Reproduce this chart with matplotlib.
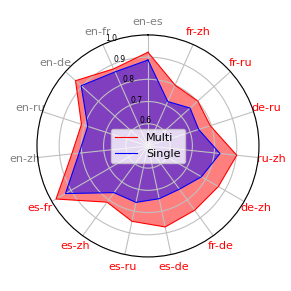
import numpy as np
import matplotlib
matplotlib.use("Agg")
import matplotlib.pyplot as plt

# language pairs, counter-clockwise from the top
pairs = ["en-es", "en-fr", "en-de", "en-ru", "en-zh", "es-fr", "es-zh", "es-ru",
         "es-de", "fr-de", "de-zh", "ru-zh", "de-ru", "fr-ru", "fr-zh"]
multi = [0.922, 0.880, 0.939, 0.815, 0.845, 0.978, 0.813, 0.847,
         0.873, 0.858, 0.866, 0.902, 0.795, 0.802, 0.800]
single = [0.887, 0.865, 0.905, 0.785, 0.812, 0.929, 0.760, 0.760,
          0.743, 0.741, 0.778, 0.826, 0.740, 0.755, 0.719]
r_ticks = [0.6, 0.7, 0.8, 0.9, 1.0]

angles = np.linspace(0, 2 * np.pi, len(pairs), endpoint=False)
ang = np.append(angles, angles[0])
m = np.append(multi, multi[0])
s = np.append(single, single[0])

fig = plt.figure(figsize=(2.91, 2.91), dpi=100)
ax = fig.add_axes([0.127, 0.117, 0.763, 0.763], projection="polar")
ax.set_theta_offset(np.pi / 2)

ax.plot(ang, m, color="red", lw=0.8, label="Multi")
ax.fill(ang, m, color="red", alpha=0.5, lw=0)
ax.plot(ang, s, color="blue", lw=0.8, label="Single")
ax.fill(ang, s, color="blue", alpha=0.5, lw=0)

ax.set_ylim(0.5, 1.0)
ax.set_yticks(r_ticks)
ax.set_yticklabels([str(t) for t in r_ticks], fontsize=5.5)
ax.set_xticks(angles)
ax.set_xticklabels(pairs, fontsize=8)
for lbl in ax.get_xticklabels():
    lbl.set_color("gray" if lbl.get_text().startswith("en") else "red")
ax.tick_params(axis="x", pad=-1)
ax.grid(color="#c0c0c0", lw=0.8)
ax.spines["polar"].set_linewidth(0.8)

ax.legend(loc="center", fontsize=8)

fig.savefig("out.png", dpi=100)
